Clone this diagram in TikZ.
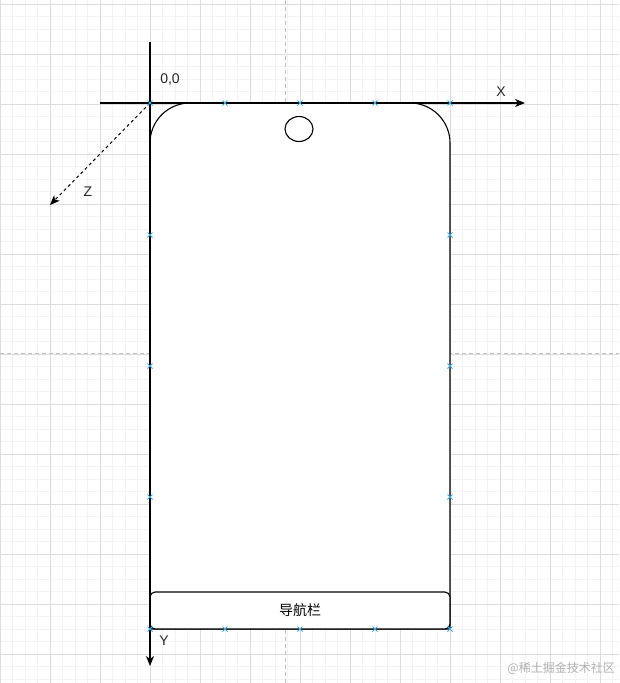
\documentclass[tikz,border=0pt]{standalone}
\usepackage{fontspec}
\setmainfont{Liberation Sans}
\newfontfamily\cjk{Noto Sans CJK SC}
\usetikzlibrary{arrows.meta,shapes.geometric}
\definecolor{minorgrid}{HTML}{F3F3F3}
\definecolor{majorgrid}{HTML}{DCDCDC}
\definecolor{guide}{HTML}{BFBFBF}
\definecolor{cpblue}{HTML}{3FA9DB}
\definecolor{wm}{HTML}{B0B0B0}
\tikzset{
  axis/.style={line width=1.2pt, -{Stealth[length=10pt,width=8pt,inset=3pt]}},
  zaxis/.style={line width=1pt, dash pattern=on 3pt off 3pt, -{Stealth[length=10pt,width=8pt,inset=3pt]}},
  outline/.style={draw=black, line width=1.1pt, fill=white},
  lbl/.style={font=\fontsize{14}{16}\selectfont, text=black!85, inner sep=0pt},
  cpmark/.style={cpblue, line width=1pt},
}
\begin{document}
\begin{tikzpicture}[x=1pt,y=-1pt]
\useasboundingbox (0,0) rectangle (619,683);
\fill[white] (0,0) rectangle (619,683);
% minor grid
\foreach \i in {0,...,50} {
  \draw[minorgrid, line width=0.6pt] ({\i*12.5},0) -- ({\i*12.5},683);
}
\foreach \j in {0,...,54} {
  \draw[minorgrid, line width=0.6pt] (0,{4+\j*12.5}) -- (619,{4+\j*12.5});
}
% major grid
\foreach \i in {0,...,12} {
  \draw[majorgrid, line width=0.7pt] ({\i*50},0) -- ({\i*50},683);
}
\foreach \j in {0,...,13} {
  \draw[majorgrid, line width=0.7pt] (0,{4+\j*50}) -- (619,{4+\j*50});
}
% guides
\draw[guide, line width=0.7pt, dash pattern=on 4pt off 3pt] (285,0) -- (285,683);
\draw[guide, line width=0.7pt, dash pattern=on 4pt off 3pt] (0,353) -- (619,353);

% coordinates
\coordinate (O) at (150,103);
\coordinate (xs) at (100,103);
\coordinate (xe) at (525,103);
\coordinate (ys) at (150,42);
\coordinate (ye) at (150,666);
\coordinate (ze) at (50,205);

% phone body
\path[outline] (150,629) -- (150,143) arc[start angle=180, end angle=270, radius=40] -- (410,103) arc[start angle=270, end angle=360, radius=40] -- (450,629) -- cycle;
\node[draw=black, line width=1.1pt, ellipse, minimum width=28pt, minimum height=25pt, inner sep=0pt] (cam) at (299,129) {};
\node[draw=black, line width=1.1pt, fill=white, rounded corners=5pt, minimum width=300pt, minimum height=37pt, inner sep=0pt] (nav) at (300,610.5) {\cjk\fontsize{14}{16}\selectfont 导航栏};

% axes
\draw[axis] (xs) -- (xe);
\draw[axis] (ys) -- (ye);
\draw[zaxis] (O) -- (ze);

% labels
\node[lbl] (l00) at (170,80) {0,0};
\node[lbl] (lx) at (501,92) {X};
\node[lbl] (ly) at (164,641) {Y};
\node[lbl] (lz) at (88,192) {Z};

% connection point marks
\foreach \p in {(150,103),(225,103),(300,103),(375,103),(450,103),
                (150,235),(150,366),(150,497),(150,629),
                (450,235),(450,366),(450,497),(450,629),
                (225,629),(300,629),(375,629)} {
  \draw[cpmark] \p ++(-2.5,-2.5) -- ++(5,5) \p ++(-2.5,2.5) -- ++(5,-5);
}

% watermark
\node[text=wm, inner sep=0pt, anchor=east] (wmk) at (615,668) {\cjk\fontsize{12}{14}\selectfont @稀土掘金技术社区};
\end{tikzpicture}
\end{document}
